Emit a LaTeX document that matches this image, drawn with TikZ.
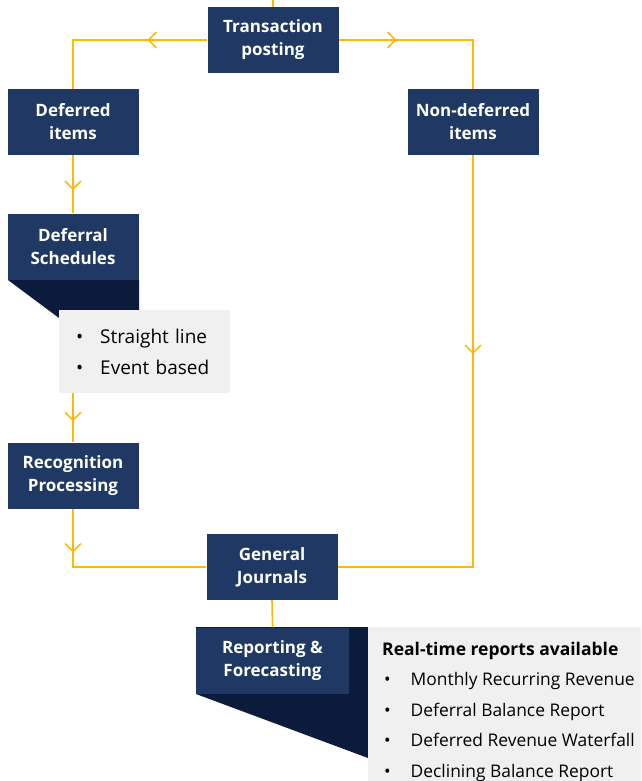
\documentclass[tikz,border=0pt]{standalone}
\usepackage{fontspec}
\setmainfont{Open Sans}
\usetikzlibrary{arrows.meta,decorations.markings,positioning}

\definecolor{boxblue}{HTML}{1F3864}
\definecolor{tailblue}{HTML}{0C1B3C}
\definecolor{panelgray}{HTML}{EFF0EF}
\definecolor{flowgold}{HTML}{FFB80A}

\tikzset{
  stepbox/.style={fill=boxblue, text=white, minimum width=131pt, minimum height=66pt,
    inner sep=0pt, align=center, font=\bfseries\fontsize{17}{23}\selectfont},
  panel/.style={fill=panelgray, inner sep=0pt, anchor=north west},
  flow/.style={draw=flowgold, line width=1.6pt},
  chev/.style={postaction={decorate, decoration={markings,
    mark=at position #1 with {\arrow{Straight Barb[length=8pt,width=16pt]}}}}},
}

\newcommand{\bul}[1][26pt]{\makebox[#1][l]{\hspace*{2pt}\textbullet}}

\begin{document}
\begin{tikzpicture}[x=1pt,y=-1pt]
\clip (0,0) rectangle (641,781);

% dark tails under the boxes
\fill[tailblue] (8,280) -- (139,280) -- (139,320) -- (59,318) -- cycle;
\fill[tailblue] (196,627) -- (368,627) -- (368,758) -- (196,694) -- cycle;

% boxes
\node[stepbox] (tp) at (273,40) {Transaction\\posting};
\node[stepbox] (di) at (73,122) {Deferred\\items};
\node[stepbox] (ndi) at (473,122) {Non-deferred\\items};
\node[stepbox] (ds) at (73,246.5) {Deferral\\Schedules};
\node[stepbox] (rp) at (73,475.5) {Recognition\\Processing};
\node[stepbox] (gj) at (272,567) {General\\Journals};
\node[stepbox, minimum width=153pt] (rf) at (272.5,660.5) {Reporting \&\\Forecasting};

% grey panels
\node[panel, minimum width=171pt, minimum height=83pt, text width=171pt, align=left,
  font=\fontsize{19}{31}\selectfont] (gl) at (59,310)
  {\hspace*{15pt}\bul Straight line\\ \hspace*{15pt}\bul Event based};
\node[panel, minimum width=273pt, minimum height=154pt] (rl) at (368,627) {};
\node[anchor=north west, inner sep=0pt, align=left, font=\fontsize{17.4}{30.5}\selectfont]
  (rtxt) at (382,641.5)
  {{\bfseries\fontsize{17.5}{30.5}\selectfont Real-time reports available}\\
   \bul[24pt] Monthly Recurring Revenue\\
   \bul[24pt] Deferral Balance Report\\
   \bul[24pt] Deferred Revenue Waterfall\\
   \bul[24pt] Declining Balance Report};

% connectors
\coordinate (top) at (273,0);
\draw[flow] (top) -- (tp);
\draw[flow, chev=60pt] (tp.west) -| (di.north);
\draw[flow, chev=58pt] (tp.east) -| (ndi.north);
\draw[flow, chev=35pt] (di.south) -- (ds.north);
\draw[flow, chev=28pt] (gl.south -| ds.south) -- (rp.north);
\draw[flow, chev=44pt] (rp.south) |- (gj.west);
\draw[flow, chev=199pt] (ndi.south) |- (gj.east);
\draw[flow] (gj.south) -- (rf.north);

\end{tikzpicture}
\end{document}
